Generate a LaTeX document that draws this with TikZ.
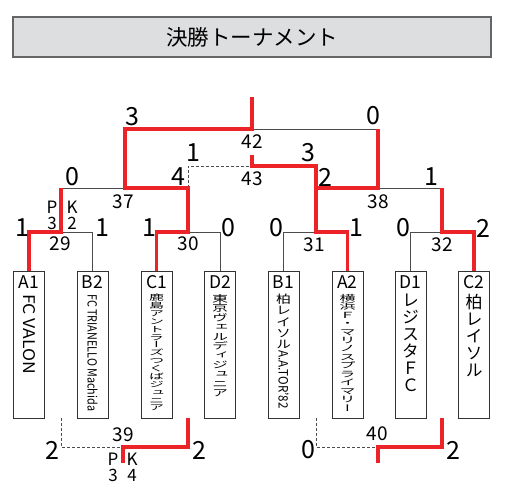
\documentclass[tikz,border=0pt]{standalone}
\usepackage{fontspec}
\setmainfont{Noto Sans CJK JP}
\newfontfamily\tatefont[RawFeature=+vert]{Noto Sans CJK JP}
\usepackage{graphicx}
\usepackage{xcolor}
\usetikzlibrary{positioning}

\definecolor{winred}{RGB}{236,36,40}
\definecolor{titlegray}{RGB}{221,222,224}

% vertical (tate) stack of characters, one per line
\makeatletter
\newcommand\tate[1]{\vbox{\tatefont\baselineskip=1em\lineskiplimit=-\maxdimen
  \@tfor\tch:=#1\do{\hbox to 1em{\hss\tch\hss}}}}
\makeatother
% latin text turned to read downwards
\newcommand\yoko[3]{\rotatebox{-90}{\resizebox{#1}{#2}{#3}}}

\begin{document}
\begin{tikzpicture}[
    x=1pt, y=-1pt,
    % Styles
    titlebox/.style={rectangle, draw=black!60, line width=1.2pt, fill=titlegray, minimum width=478pt, minimum height=40pt, font=\fontsize{21.5}{24}\selectfont},
    teambox/.style={rectangle, draw=black!80, line width=0.9pt, minimum width=31pt, minimum height=147pt, inner sep=0pt},
    teamid/.style={inner sep=0pt, text height=12pt, text depth=0pt, font=\fontsize{17.5}{18}\selectfont},
    teamname/.style={inner sep=0pt, align=center, font=\fontsize{17}{17}\selectfont},
    score/.style={inner sep=0pt, font=\fontsize{25}{25}\selectfont},
    matchno/.style={inner sep=0pt, font=\fontsize{19}{19}\selectfont},
    pk/.style={inner sep=0pt, font=\fontsize{17}{17}\selectfont},
    thinline/.style={draw=black!70, line width=0.9pt},
    dashline/.style={draw=black!70, line width=0.8pt, dash pattern=on 3pt off 2pt},
    winline/.style={draw=winred, line width=3.8pt}
]
\useasboundingbox (0,0) rectangle (510,488);

% --- Title ---
\node[titlebox] (title) at (252,37) {決勝トーナメント};

% --- Teams ---
\foreach \t/\x in {A1/29, B2/92.5, C1/156.5, D2/220, B1/283.5, A2/347.5, D1/410.5, C2/474} {
    \node[teambox] (\t) at (\x,344.5) {};
    \node[teamid, below=6pt of \t.north] (\t-id) {\t};
}
\node[teamname, below=5pt of A1-id] (A1-nm) {\yoko{80pt}{12pt}{FC VALON}};
\node[teamname, below=5pt of B2-id] (B2-nm) {\yoko{117pt}{10pt}{FC TRIANELLO Machida}};
\node[teamname, below=5pt of C1-id] (C1-nm) {\resizebox*{15pt}{117pt}{\tate{鹿島アントラーズつくばジュニア}}};
\node[teamname, below=5pt of D2-id] (D2-nm) {\resizebox*{16pt}{103pt}{\tate{東京ヴェルディジュニア}}};
\node[teamname, below=5pt of B1-id] (B1-nm) {\resizebox*{15pt}{55pt}{\tate{柏レイソル}}};
\node[teamname, below=1pt of B1-nm] (B1-sub) {\yoko{58pt}{10pt}{A.A.TOR'82}};
\node[teamname, below=5pt of A2-id] (A2-nm) {\resizebox*{16pt}{117pt}{\tate{横浜Ｆ・マリノスプライマリー}}};
\node[teamname, below=5pt of D1-id] (D1-nm) {\tate{レジスタＦＣ}};
\node[teamname, below=5pt of C2-id] (C2-nm) {\tate{柏レイソル}};

% --- Bracket points ---
\coordinate (m29) at (61,232);
\coordinate (m30) at (188,232);
\coordinate (m31) at (316,232);
\coordinate (m32) at (442,232);
\coordinate (m37) at (125,188);
\coordinate (m38) at (378,188);
\coordinate (m43) at (252,166);
\coordinate (m43end) at (252,155);
\coordinate (m42) at (252,129);
\coordinate (champ) at (252,97);
\coordinate (m39) at (123,447);
\coordinate (m39pk) at (123,463);
\coordinate (m40) at (378,447);
\coordinate (m40pk) at (378,463);

% losers
\draw[thinline] (B2.north) |- (m29);
\draw[thinline] (D2.north) |- (m30);
\draw[thinline] (B1.north) |- (m31);
\draw[thinline] (D1.north) |- (m32);
\draw[thinline] (m29 |- m37) -- (m37);
\draw[thinline] (m38) -- (m32 |- m38);
\draw[thinline] (m42) -- (m38 |- m42);
\draw[dashline] (m30 |- m37) |- (m43);
\draw[dashline] (A1.south -| m29) |- (m39);
\draw[dashline] (B1.south -| m31) |- (m40);

% winners
\draw[winline] (A1.north) |- (m29) -- (m29 |- m37);
\draw[winline] (C1.north) |- (m30) -- (m30 |- m37) -- (m37) |- (m42) -- (champ);
\draw[winline] (A2.north) |- (m31) -- (m31 |- m38) -- (m38) -- (m38 |- m42);
\draw[winline] (C2.north) |- (m32) -- (m32 |- m38);
\draw[winline] (m31 |- m38) |- (m43) -- (m43end);
\draw[winline] (C1.south -| m30) |- (m39) -- (m39pk);
\draw[winline] (C2.south -| m32) |- (m40) -- (m40pk);

% --- Scores ---
\foreach \x/\y/\s [count=\i] in {132/117/3, 373/116/0, 193/153/1, 308/153/3,
    72/177/0, 178/177/4, 325/177/2, 431/177/1,
    22/228/1, 102/228/1, 149/228/1, 228/228/0, 276/228/0, 356/228/1, 403/228/0, 483/228/2,
    52/450/2, 199/450/2, 308/450/0, 453/450/2}
    \node[score] (sc\i) at (\x,\y) {\s};

% --- Match numbers ---
\foreach \x/\y/\m in {252/142/42, 252/179/43, 123/202/37, 378/202/38,
    60/244/29, 188/244/30, 314/245/31, 442/245/32, 123/435/39, 377/434/40}
    \node[matchno] (no\m) at (\x,\y) {\m};

% --- PK ---
\node[pk] (pkP1) at (52,207) {P};
\node[pk] (pkK1) at (72,207) {K};
\node[pk] (pkA1) at (52,223) {3};
\node[pk] (pkB1) at (72,223) {2};
\node[pk] (pkP2) at (113,459) {P};
\node[pk] (pkK2) at (132,459) {K};
\node[pk] (pkA2) at (113,475) {3};
\node[pk] (pkB2) at (132,475) {4};

\end{tikzpicture}
\end{document}
